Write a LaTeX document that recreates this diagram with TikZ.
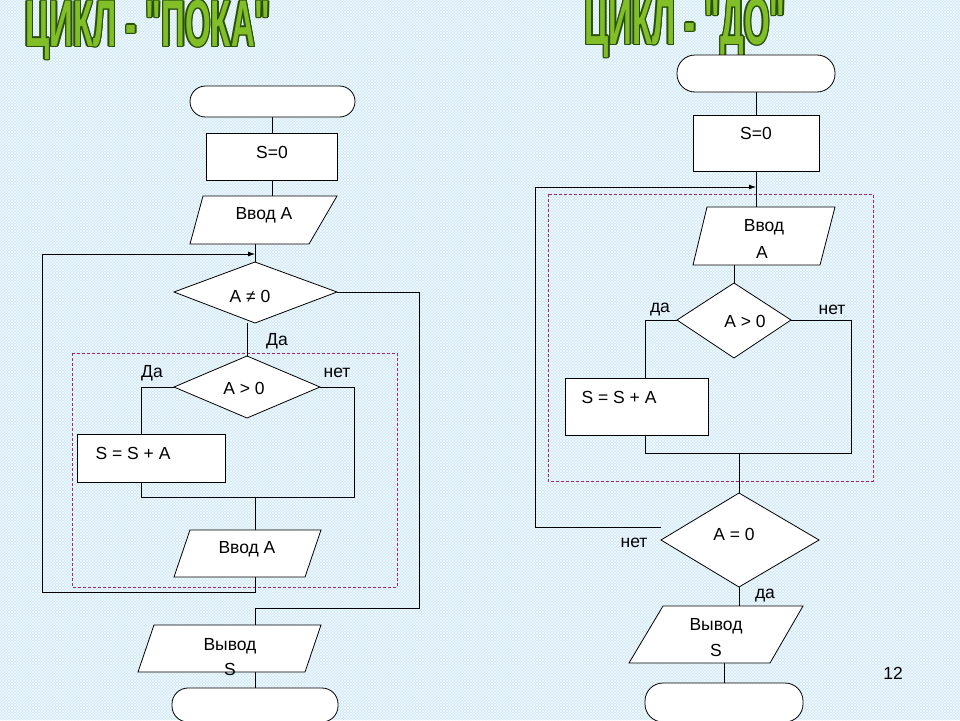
\documentclass[tikz,border=0pt]{standalone}
\usepackage{fontspec}
\setmainfont{Liberation Sans}
\newfontfamily\tfont{Liberation Sans}[Ligatures=ResetAll]
\usetikzlibrary{patterns,arrows.meta}
\definecolor{bg}{RGB}{204,232,246}
\definecolor{ttl}{RGB}{130,190,40}
\definecolor{ttlo}{RGB}{40,80,10}
\definecolor{dash}{RGB}{160,40,110}
\begin{document}
\begin{tikzpicture}[x=1pt,y=-1pt,
  box/.style={draw=black,fill=white,line width=0.8pt},
  ln/.style={draw=black,line width=0.8pt},
  txt/.style={font=\fontsize{17.5}{20}\selectfont,inner sep=0pt},
  ttxt/.style={inner sep=0pt,font=\tfont\bfseries\fontsize{66}{66}\selectfont,xscale=0.5,anchor=center},
  dsh/.style={draw=dash,dashed,dash pattern=on 3pt off 2pt,line width=0.7pt},
  arr/.style={ln,-{Latex[length=7pt,width=5pt]}}]
\fill[bg] (0,0) rectangle (960,720);
\fill[pattern=crosshatch,pattern color=white!80!bg] (0,0) rectangle (960,720);
\useasboundingbox (0,0) rectangle (960,720);
% titles
\foreach \dx/\dy in {-1.5/0,1.5/0,0/-1.5,0/1.5,-1/-1,1/1,-1/1,1/-1}{
  \node[ttxt,text=ttlo] at (148+\dx,30+\dy) {ЦИКЛ - "ПОКА"};
  \node[ttxt,text=ttlo] at (685+\dx,28+\dy) {ЦИКЛ - "ДО"};}
\node[ttxt,text=ttl] (t1) at (148,30) {ЦИКЛ - "ПОКА"};
\node[ttxt,text=ttl] (t2) at (685,28) {ЦИКЛ - "ДО"};

% ===== LEFT =====
\draw[dsh] (72,353) rectangle (397,587);
\draw[ln] (272,117) -- (272,133);
\draw[ln] (272,180) -- (272,196);
\draw[ln] (255,244) -- (255,262);
\draw[arr] (42,254) -- (255,254);
\draw[ln] (42,254) -- (42,592) -- (255,592) -- (255,577);
\draw[ln] (337,292) -- (419,292) -- (419,608) -- (255,608) -- (255,625);
\draw[ln] (247,323) -- (247,356);
\draw[ln] (174,387) -- (141,387) -- (141,434);
\draw[ln] (141,482) -- (141,497) -- (354,497) -- (354,387) -- (320,387);
\draw[ln] (255,497) -- (255,530);
\draw[ln] (255,672) -- (255,688);

\draw[box,rounded corners=15.5pt] (190,86) rectangle (355,117);
\draw[box] (206,133) rectangle (337,180);
\node[txt] (Ls) at (272,152) {S=0};
\draw[box] (203,196) -- (337,196) -- (309,244) -- (190,244) -- cycle;
\node[txt] (Lin1) at (264,215) {Ввод A};
\draw[box] (255,262) -- (337,292) -- (255,323) -- (174,292) -- cycle;
\node[txt] (Lc1) at (250,296) {A ≠ 0};
\node[txt] at (277,341) {Да};
\draw[box] (247,356) -- (320,387) -- (247,418) -- (174,387) -- cycle;
\node[txt] (Lc2) at (244,388) {A > 0};
\node[txt] at (152,373) {Да};
\node[txt] at (337,373) {нет};
\draw[box] (77,434) rectangle (225,482);
\node[txt] (Lsum) at (133,453) {S = S + A};
\draw[box] (190,530) -- (321,530) -- (305,577) -- (174,577) -- cycle;
\node[txt] (Lin2) at (247,549) {Ввод A};
\draw[box] (154,625) -- (321,625) -- (305,672) -- (138,672) -- cycle;
\node[txt] at (230,646) {Вывод};
\node[txt] (Lout) at (230,669) {S};
\draw[box,rounded corners=16pt] (172,688) rectangle (338,722);

% ===== RIGHT =====
\draw[dsh] (548,194) rectangle (873,481);
\draw[ln] (756,92) -- (756,115);
\draw[ln] (756,171) -- (756,207);
\draw[arr] (535,187) -- (756,187);
\draw[ln] (535,187) -- (535,527) -- (661,527);
\draw[ln] (734,265) -- (734,283);
\draw[ln] (677,320) -- (645,320) -- (645,378);
\draw[ln] (645,435) -- (645,453) -- (851,453) -- (851,320) -- (791,320);
\draw[ln] (739,453) -- (739,493);
\draw[ln] (739,587) -- (739,606);
\draw[ln] (724,663) -- (724,683);

\draw[box,rounded corners=18pt] (677,55) rectangle (835,92);
\draw[box] (693,115) rectangle (819,171);
\node[txt] (Rs) at (756,133) {S=0};
\draw[box] (707,207) -- (835,207) -- (820,265) -- (693,265) -- cycle;
\node[txt] at (764,227) {Ввод};
\node[txt] (Rin) at (762,252) {A};
\draw[box] (734,283) -- (791,320) -- (734,358) -- (677,320) -- cycle;
\node[txt] (Rc1) at (745,321) {A > 0};
\node[txt] at (660,310) {да};
\node[txt] at (832,310) {нет};
\draw[box] (565,378) rectangle (708,435);
\node[txt] (Rsum) at (619,397) {S = S + A};
\draw[box] (739,493) -- (819,540) -- (739,587) -- (661,540) -- cycle;
\node[txt] (Rc2) at (734,534) {A = 0};
\node[txt] at (634,543) {нет};
\node[txt] at (765,596) {да};
\draw[box] (663,606) -- (803,606) -- (770,663) -- (629,663) -- cycle;
\node[txt] at (716,626) {Вывод};
\node[txt] (Rout) at (716,650) {S};
\draw[box,rounded corners=18pt] (645,683) rectangle (803,722);

\node[txt] (pg) at (893,673) {12};
\end{tikzpicture}
\end{document}
